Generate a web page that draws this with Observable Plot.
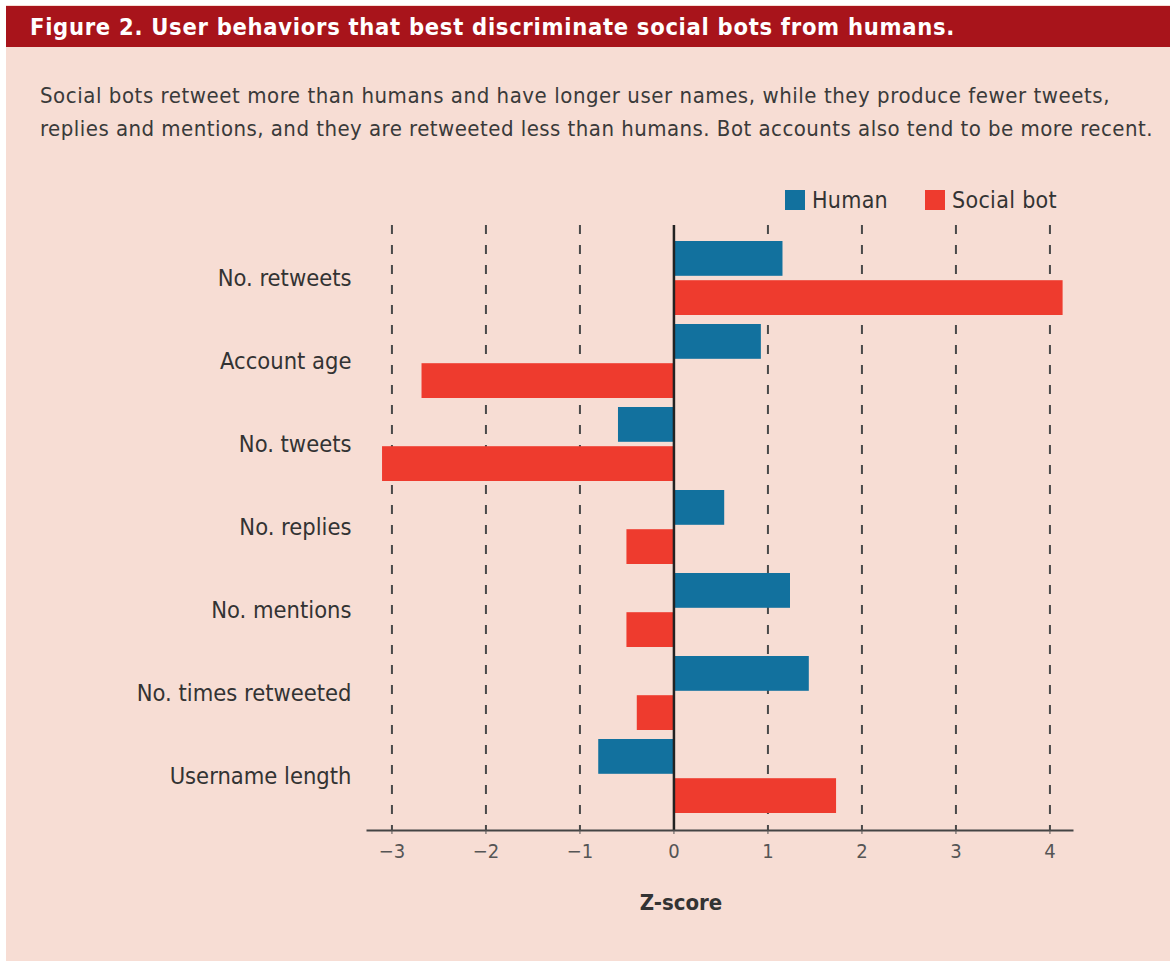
<!DOCTYPE html>
<html><head><meta charset="utf-8">
<script src="https://cdn.jsdelivr.net/npm/d3@7"></script>
<script src="https://cdn.jsdelivr.net/npm/@observablehq/plot@0.6"></script>
<style>
body{margin:0;background:#fff;font-family:"DejaVu Sans Condensed","DejaVu Sans",sans-serif;font-stretch:condensed;}
#page{position:relative;width:1170px;height:961px;overflow:hidden;}
#bg{position:absolute;left:6px;top:5px;width:1164px;height:956px;background:#F7DDD4;}
#titlebar{position:absolute;left:6px;top:6px;width:1164px;height:41px;background:#A8141B;}
#title{position:absolute;left:30px;top:6px;height:41px;line-height:42px;color:#fff;font-weight:700;font-size:23.5px;white-space:nowrap;}
.sub{position:absolute;left:40px;font-size:22px;color:#3a3a3a;white-space:nowrap;line-height:28px;}
#chart{position:absolute;left:0;top:160px;}
#legend{position:absolute;left:785px;top:187px;font-size:23px;color:#333;display:flex;align-items:center;}
#legend .sw{display:inline-block;width:20px;height:20px;margin-right:7px;}
#legend .it{display:flex;align-items:center;}
#xlabel{position:absolute;left:681px;top:890px;transform:translateX(-50%);font-weight:700;font-size:22px;color:#333;}
</style>
</head><body>
<div id="page">
  <div id="bg"></div>
  <div id="titlebar"></div>
  <div id="title" data-w="925">Figure 2. User behaviors that best discriminate social bots from humans.</div>
  <div class="sub" style="top:82px" data-w="1070">Social bots retweet more than humans and have longer user names, while they produce fewer tweets,</div>
  <div class="sub" style="top:115px" data-w="1113">replies and mentions, and they are retweeted less than humans. Bot accounts also tend to be more recent.</div>
  <div id="legend"></div>
  <div id="chart"></div>
  <div id="xlabel">Z-score</div>
</div>
<script>
const categories = ["No. retweets","Account age","No. tweets","No. replies","No. mentions","No. times retweeted","Username length"];
const humanValues = [1.16, 0.93, -0.59, 0.54, 1.24, 1.44, -0.80];
const botValues = [4.14, -2.68, -3.10, -0.50, -0.50, -0.39, 1.73];
const seriesNames = ["Human","Social bot"];
const seriesColors = ["#12719E","#EE3B2E"];
const xTicks = [-3,-2,-1,0,1,2,3,4];

const humanRows = categories.map((c,i)=>({category:c, value:humanValues[i]}));
const botRows = categories.map((c,i)=>({category:c, value:botValues[i]}));

// fit text widths to reference
function fit(el, target){
  const w = el.getBoundingClientRect().width;
  const n = el.textContent.length;
  el.style.letterSpacing = ((target - w)/n) + "px";
}
document.querySelectorAll("[data-w]").forEach(el=>fit(el, +el.dataset.w));

// legend
const leg = document.getElementById("legend");
const legWidths = [76, 105];
seriesNames.forEach((s,i)=>{
  const it = document.createElement("div"); it.className="it";
  if (i === 0) it.style.marginRight = "37px";
  const sw = document.createElement("span"); sw.className="sw"; sw.style.background=seriesColors[i];
  const tx = document.createElement("span"); tx.textContent = s; tx.style.whiteSpace="nowrap";
  it.appendChild(sw); it.appendChild(tx);
  leg.appendChild(it);
  fit(tx, legWidths[i]);
});

const W = 1170, H = 710;
const chart = Plot.plot({
  width: W, height: H,
  marginLeft: 367, marginRight: 98, marginTop: 65, marginBottom: 40,
  style: {background:"transparent", fontFamily:"'DejaVu Sans Condensed', 'DejaVu Sans', sans-serif", fontStretch:"condensed", color:"#333"},
  x: {domain:[-3.26, 4.24], ticks: xTicks, label: null},
  y: {domain: categories, paddingInner: 0.104, paddingOuter: 0.18, label: null},
  marks: [
    Plot.ruleX(xTicks.filter(d=>d!==0), {stroke:"#4a4a4a", strokeWidth:2, strokeDasharray:"9,11"}),
    Plot.barX(humanRows, {y:"category", x:"value", fill:seriesColors[0], insetBottom:39.2}),
    Plot.barX(botRows, {y:"category", x:"value", fill:seriesColors[1], insetTop:39.2}),
    Plot.ruleX([0], {stroke:"#222", strokeWidth:2.5}),
    Plot.frame({anchor:"bottom", stroke:"#444", strokeWidth:2}),
    Plot.axisX({ticks: xTicks, tickSize: 4, tickPadding: 9, fontSize: 20, color:"#555", label: null, tickFormat: d=>d<0?"\u2212"+(-d):String(d)}),
    Plot.axisY({tickSize: 0, tickPadding: 16, fontSize: 23.5, color:"#333", label: null})
  ]
});
document.getElementById("chart").appendChild(chart);
</script>
</body></html>
